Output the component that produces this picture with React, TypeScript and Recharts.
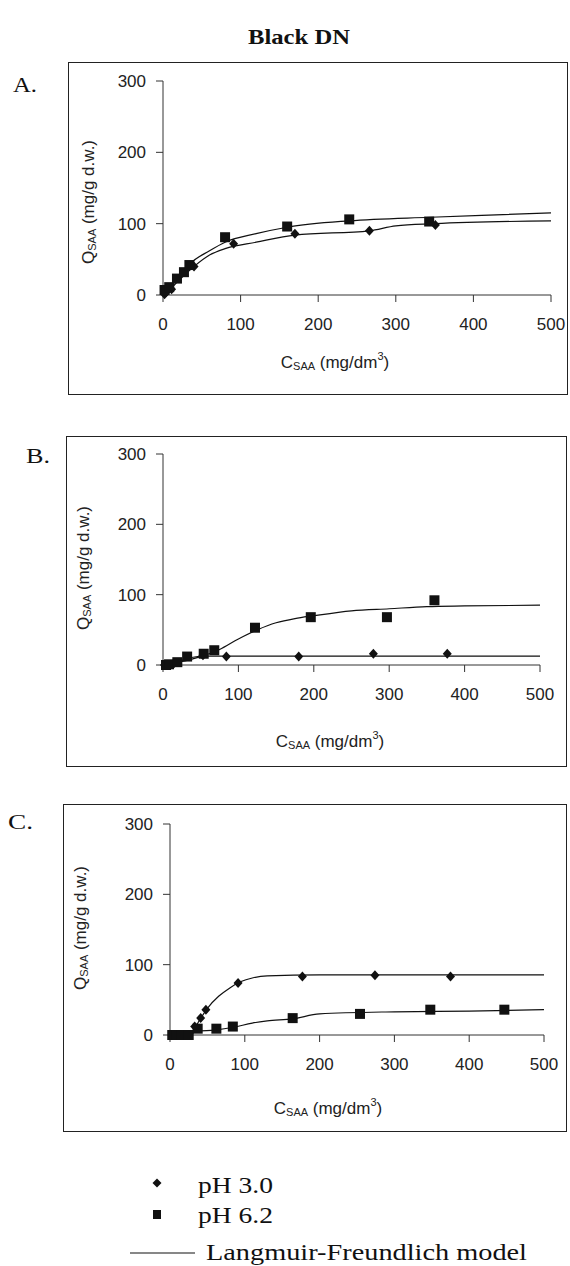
import React from "react";
import { ComposedChart, Line, Scatter, XAxis, YAxis } from "recharts";

type Pt = { x: number; y: number };
const pts = (arr: number[][]): Pt[] => arr.map(([x, y]) => ({ x, y }));

const xTicks = [0, 100, 200, 300, 400, 500];
const yTicks = [0, 100, 200, 300];

// Panel A
const ph30A = pts([[2, 1], [4, 4], [11, 8], [40, 40], [91, 72], [170, 86], [266, 90], [351, 98]]);
const ph62A = pts([[2, 7], [8, 11], [18, 23], [27, 32], [34, 42], [80, 81], [160, 96], [240, 106], [343, 103]]);
const fit30A = pts([[0, 0], [10, 9], [20, 20], [40, 40], [60, 56], [80, 65], [120, 74], [170, 84], [266, 90], [300, 97], [350, 100], [500, 104]]);
const fit62A = pts([[0, 0], [10, 12], [20, 24], [35, 44], [60, 62], [80, 74], [120, 86], [160, 95], [240, 104], [345, 109], [420, 112], [500, 115]]);

// Panel B
const ph30B = pts([[2, 0], [15, 3], [53, 14], [84, 12], [180, 12], [279, 16], [377, 16]]);
const ph62B = pts([[4, 0], [8, 1], [19, 4], [32, 12], [54, 16], [68, 21], [122, 53], [196, 68], [297, 68], [360, 92]]);
const fit30B = pts([[0, 0], [20, 5], [40, 11], [55, 12.5], [500, 12.5]]);
const fit62B = pts([[0, 0], [20, 4], [50, 12], [75, 22], [100, 37], [125, 50], [150, 60], [175, 66], [200, 70], [250, 77], [300, 80], [350, 83], [400, 84], [500, 85]]);

// Panel C
const ph30C = pts([[3, 0], [12, 0], [22, 0], [33, 12], [41, 24], [48, 36], [91, 74], [177, 83], [274, 85], [375, 83]]);
const ph62C = pts([[3, 0], [9, 0], [16, 0], [25, 0], [37, 9], [62, 9], [84, 12], [164, 24], [254, 30], [348, 36], [447, 36]]);
const fit30C = pts([[0, 0], [25, 0], [32, 8], [40, 22], [50, 38], [65, 55], [80, 67], [95, 76], [110, 81], [130, 84], [200, 85.5], [500, 85.5]]);
const fit62C = pts([[0, 0], [25, 0], [35, 5], [60, 7], [85, 11], [110, 17], [130, 20], [164, 23], [200, 30], [300, 33], [400, 34], [500, 36]]);

const INK = "#111";
const SANS = "'Liberation Sans', Arial, sans-serif";
const SERIF = "'Liberation Serif', 'Times New Roman', serif";

const Diamond = (props: any) => {
  const { cx, cy } = props;
  if (cx == null || cy == null) return null;
  return <polygon points={`${cx},${cy - 5} ${cx + 4.5},${cy} ${cx},${cy + 5} ${cx - 4.5},${cy}`} fill={INK} />;
};

const Square = (props: any) => {
  const { cx, cy } = props;
  if (cx == null || cy == null) return null;
  return <rect x={cx - 5} y={cy - 5} width={10} height={10} fill={INK} />;
};

const XTitle = ({ px, py }: any) => (
  <text x={px} y={py} textAnchor="middle" dominantBaseline="central" fontSize={17} fill="#222" fontFamily={SANS}>
    C<tspan fontSize={11} dy={4}>SAA</tspan>
    <tspan dy={-4}> (mg/dm</tspan>
    <tspan fontSize={11} dy={-6}>3</tspan>
    <tspan dy={6}>)</tspan>
  </text>
);

const YTitle = ({ px, py }: any) => (
  <text
    x={px}
    y={py}
    transform={`rotate(-90, ${px}, ${py})`}
    textAnchor="middle"
    dominantBaseline="central"
    fontSize={17}
    fill="#222"
    fontFamily={SANS}
  >
    Q<tspan fontSize={11} dy={4}>SAA</tspan>
    <tspan dy={-4}> (mg/g d.w.)</tspan>
  </text>
);

type PanelProps = {
  left: number;
  top: number;
  width: number;
  height: number;
  plotLeft: number;
  plotRight: number;
  plotTop: number;
  plotBottom: number;
  xTitle: [number, number];
  yTitle: [number, number];
  ph30: Pt[];
  ph62: Pt[];
  fit30: Pt[];
  fit62: Pt[];
};

function Panel(p: PanelProps) {
  return (
    <>
      <div
        style={{
          position: "absolute",
          left: p.left,
          top: p.top,
          width: p.width,
          height: p.height,
          border: "1.5px solid #222",
          boxSizing: "border-box",
        }}
      />
      <div style={{ position: "absolute", left: p.left, top: p.top }}>
        <ComposedChart
          width={p.width}
          height={p.height}
          margin={{ top: p.plotTop, right: p.width - p.plotRight, left: 0, bottom: 0 }}
        >
          <XAxis
            type="number"
            dataKey="x"
            domain={[0, 500]}
            ticks={xTicks}
            height={p.height - p.plotBottom}
            tickSize={7}
            tickMargin={16}
            stroke="#333"
            tick={{ fontSize: 17, fill: "#222", fontFamily: SANS }}
            label={<XTitle px={p.xTitle[0]} py={p.xTitle[1]} />}
          />
          <YAxis
            type="number"
            domain={[0, 300]}
            ticks={yTicks}
            width={p.plotLeft}
            tickSize={7}
            tickMargin={10}
            stroke="#333"
            tick={{ fontSize: 17, fill: "#222", fontFamily: SANS }}
            label={<YTitle px={p.yTitle[0]} py={p.yTitle[1]} />}
          />
          <Line data={p.fit62} dataKey="y" type="monotone" stroke={INK} strokeWidth={1.2} dot={false} activeDot={false} isAnimationActive={false} />
          <Line data={p.fit30} dataKey="y" type="monotone" stroke={INK} strokeWidth={1.2} dot={false} activeDot={false} isAnimationActive={false} />
          <Scatter data={p.ph30} dataKey="y" shape={Diamond} isAnimationActive={false} />
          <Scatter data={p.ph62} dataKey="y" shape={Square} isAnimationActive={false} />
        </ComposedChart>
      </div>
    </>
  );
}

export default function App() {
  return (
    <div style={{ position: "absolute", left: 0, top: 0, width: 570, height: 1266, background: "#fff" }}>
      <svg width={570} height={1266} style={{ position: "absolute", left: 0, top: 0 }}>
        <text x={299} y={44} textAnchor="middle" fontFamily={SERIF} fontWeight="bold" fontSize={21} textLength={102} lengthAdjust="spacingAndGlyphs" fill="#111">
          Black DN
        </text>
        <text x={13} y={92} fontFamily={SERIF} fontSize={20} textLength={24} lengthAdjust="spacingAndGlyphs" fill="#111">A.</text>
        <text x={26} y={463} fontFamily={SERIF} fontSize={21} textLength={24} lengthAdjust="spacingAndGlyphs" fill="#111">B.</text>
        <text x={8} y={829} fontFamily={SERIF} fontSize={21} textLength={25} lengthAdjust="spacingAndGlyphs" fill="#111">C.</text>

        {/* legend */}
        <polygon points="157,1178.5 161.5,1183 157,1187.5 152.5,1183" fill={INK} />
        <text x={198} y={1193} fontFamily={SERIF} fontSize={23} textLength={75} lengthAdjust="spacingAndGlyphs" fill="#111">pH 3.0</text>
        <rect x={153} y={1210} width={8} height={9} fill={INK} />
        <text x={198} y={1223} fontFamily={SERIF} fontSize={23} textLength={75} lengthAdjust="spacingAndGlyphs" fill="#111">pH 6.2</text>
        <line x1={130} y1={1253} x2={195} y2={1253} stroke={INK} strokeWidth={1.2} />
        <text x={206} y={1260} fontFamily={SERIF} fontSize={23} textLength={321} lengthAdjust="spacingAndGlyphs" fill="#111">Langmuir-Freundlich model</text>
      </svg>

      <Panel
        left={68} top={62} width={500} height={333}
        plotLeft={95} plotRight={483} plotTop={19} plotBottom={233}
        xTitle={[267, 300]} yTitle={[20, 140]}
        ph30={ph30A} ph62={ph62A} fit30={fit30A} fit62={fit62A}
      />
      <Panel
        left={66} top={436} width={501} height={331}
        plotLeft={97} plotRight={474} plotTop={18} plotBottom={229}
        xTitle={[264, 305]} yTitle={[17, 132]}
        ph30={ph30B} ph62={ph62B} fit30={fit30B} fit62={fit62B}
      />
      <Panel
        left={63} top={804} width={504} height={328}
        plotLeft={107} plotRight={481} plotTop={20} plotBottom={231}
        xTitle={[265, 304]} yTitle={[17, 124]}
        ph30={ph30C} ph62={ph62C} fit30={fit30C} fit62={fit62C}
      />
    </div>
  );
}
